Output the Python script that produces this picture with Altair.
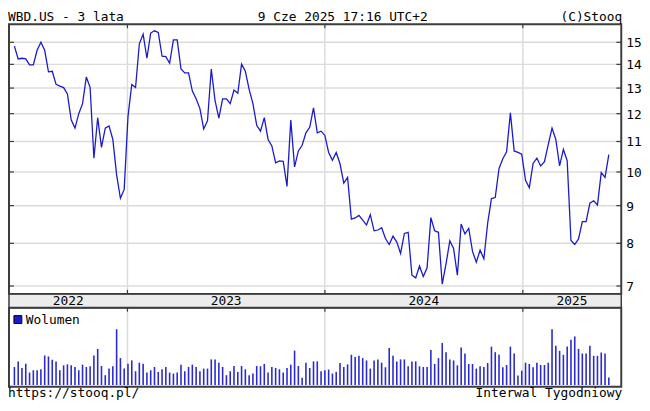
import altair as alt
import pandas as pd

FONT = "DejaVu Sans Mono"

# ---------------- data (weekly) ----------------
prices = [
    14.82, 14.24, 14.27, 14.24, 13.98, 13.98, 14.63, 15.00, 14.63, 13.68,
    13.70, 13.15, 13.08, 13.02, 12.76, 11.77, 11.47, 12.00, 12.38, 13.46,
    13.02, 10.44, 11.85, 10.80, 11.47, 11.55, 11.07, 9.91, 9.21, 9.47,
    11.89, 13.15, 13.02, 14.93, 15.39, 14.27, 15.44, 15.55, 15.47, 14.36,
    14.34, 14.05, 15.11, 15.11, 13.80, 13.63, 13.63, 12.88, 12.57, 12.19,
    11.44, 11.73, 13.80, 12.50, 11.83, 12.57, 12.57, 12.38, 12.92, 12.79,
    14.01, 13.70, 12.95, 12.38, 11.57, 11.36, 11.85, 11.07, 10.85, 10.29,
    10.35, 10.34, 9.56, 11.76, 10.16, 10.68, 10.87, 11.30, 11.50, 12.22,
    11.30, 11.36, 11.21, 10.63, 10.37, 10.63, 10.26, 9.66, 9.83, 8.63,
    8.66, 8.73, 8.60, 8.47, 8.75, 8.32, 8.34, 8.40, 8.12, 7.97,
    8.18, 8.03, 7.75, 8.25, 8.28, 7.24, 7.18, 7.45, 7.21, 7.41,
    8.67, 8.32, 8.28, 7.04, 7.50, 8.06, 7.87, 7.24, 8.50, 8.24,
    8.38, 7.80, 7.54, 7.83, 7.62, 8.52, 9.20, 9.23, 10.11, 10.42,
    10.65, 12.03, 10.68, 10.63, 10.57, 9.74, 9.52, 10.27, 10.44, 10.19,
    10.33, 10.89, 11.47, 11.07, 10.19, 10.73, 10.36, 8.07, 7.97, 8.11,
    8.56, 8.56, 9.07, 9.14, 9.02, 9.98, 9.83, 10.56,
]

volumes = [  # millions of shares per week
    55, 72, 52, 65, 38, 45, 45, 48, 90, 87,
    77, 72, 45, 60, 63, 60, 55, 45, 62, 55,
    57, 90, 110, 58, 30, 50, 57, 170, 82, 50,
    65, 75, 42, 68, 65, 38, 45, 55, 40, 48,
    55, 38, 35, 38, 62, 42, 55, 62, 55, 42,
    50, 50, 78, 78, 68, 55, 30, 42, 58, 40,
    58, 48, 30, 35, 58, 57, 64, 38, 55, 52,
    48, 38, 52, 62, 105, 58, 22, 68, 52, 72,
    72, 42, 45, 47, 35, 40, 67, 55, 63, 92,
    85, 89, 82, 75, 50, 75, 78, 68, 54, 113,
    89, 72, 78, 78, 57, 72, 72, 57, 55, 55,
    107, 64, 82, 128, 100, 78, 75, 60, 114, 96,
    64, 64, 50, 57, 55, 67, 117, 100, 92, 54,
    61, 117, 96, 29, 44, 68, 64, 54, 68, 61,
    61, 68, 170, 120, 104, 92, 117, 138, 148, 110,
    96, 96, 120, 89, 89, 99, 96, 23,
]

last_week = "2025-06-09"
price_ticks = [7, 8, 9, 10, 11, 12, 13, 14, 15]
years = ["2022", "2023", "2024", "2025"]
year_starts = ["2023-01-01", "2024-01-01", "2025-01-01"]
view_start = "2022-05-27"
view_end = "2025-07-02"
price_domain = [6.83, 15.87]
volume_max = 235.5

title_left = "WBD.US - 3 lata"
title_mid = "9 Cze 2025 17:16 UTC+2"
title_right = "(C)Stooq"
footer_left = "https://stooq.pl/"
footer_right = "Interwal Tygodniowy"
legend_label = "Wolumen"

# ---------------- layout ----------------
W, H = 642, 394
X0, X1 = 1, 621
PT, PB = 14, 287
VT, VB = 301, 381
VBASE = 379.3

LINE = "#1a1acc"
BAR = "#2a2ad0"
GRID = "#dcdcdc"
FRAME = "#3c3c3c"
BAND = "#ececec"

fmt = "%Y-%m-%dT%H:%M:%S"
dates = pd.date_range(end=last_week, periods=len(prices), freq="7D")
df = pd.DataFrame({"date": dates.strftime(fmt), "close": prices, "volume": volumes})

ys = pd.to_datetime(year_starts)
ys_df = pd.DataFrame({"d": ys.strftime(fmt)})
bounds = list(pd.to_datetime([view_start])) + list(ys) + list(pd.to_datetime([view_end]))
mids = [bounds[i] + (bounds[i + 1] - bounds[i]) / 2 for i in range(len(years))]
yl_df = pd.DataFrame({"d": [m.strftime(fmt) for m in mids], "y": years})
tick_df = pd.DataFrame({"v": price_ticks, "lab": [str(t) for t in price_ticks]})

vs, ve = pd.Timestamp(view_start), pd.Timestamp(view_end)
xscale = alt.Scale(
    domain=[alt.DateTime(year=vs.year, month=vs.month, date=vs.day),
            alt.DateTime(year=ve.year, month=ve.month, date=ve.day)],
    range=[X0, X1],
)
pscale = alt.Scale(type="log", domain=price_domain, range=[PB, PT], nice=False, zero=False)
vscale = alt.Scale(domain=[0, volume_max], range=[VBASE, VT], nice=False, zero=True)

one = alt.Data(values=[{"k": 0}])


def box(x1, x2, y1, y2, **kw):
    return alt.Chart(one).mark_rect(**kw).encode(
        x=alt.value(x1), x2=alt.value(x2), y=alt.value(y1), y2=alt.value(y2))


def label(txt, x, y, align="left", size=13):
    return alt.Chart(one).mark_text(
        text=txt, align=align, baseline="alphabetic", font=FONT, fontSize=size, color="#000"
    ).encode(x=alt.value(x), y=alt.value(y))


X = lambda f: alt.X(f, type="temporal", scale=xscale, axis=None)

band = box(X0, X1, PB, VT, fill=BAND, stroke=FRAME, strokeWidth=1.5)

hgrid = alt.Chart(tick_df).mark_rule(color=GRID, strokeWidth=1.5).encode(
    y=alt.Y("v:Q", scale=pscale, axis=None), x=alt.value(X0), x2=alt.value(X1))

vgrid_p = alt.Chart(ys_df).mark_rule(color=GRID, strokeWidth=1.5).encode(
    x=X("d"), y=alt.value(PT), y2=alt.value(PB))
vgrid_v = alt.Chart(ys_df).mark_rule(color=GRID, strokeWidth=1.5).encode(
    x=X("d"), y=alt.value(VT), y2=alt.value(VB))

line = alt.Chart(df).mark_line(color=LINE, strokeWidth=1.3).encode(
    x=X("date"), y=alt.Y("close:Q", scale=pscale, axis=None))

bars = alt.Chart(df).mark_rule(color=BAR, strokeWidth=1.6).encode(
    x=X("date"), y=alt.Y("volume:Q", scale=vscale, axis=None), y2=alt.datum(0))

frame_p = box(X0, X1, PT, PB, fillOpacity=0, stroke=FRAME, strokeWidth=2)
frame_v = box(X0, X1, VT, VB, fillOpacity=0, stroke=FRAME, strokeWidth=2)

lt = alt.Chart(tick_df).mark_rule(color=FRAME, strokeWidth=1.2).encode(
    y=alt.Y("v:Q", scale=pscale, axis=None), x=alt.value(X0), x2=alt.value(X0 + 5))
rt = alt.Chart(tick_df).mark_rule(color=FRAME, strokeWidth=1.2).encode(
    y=alt.Y("v:Q", scale=pscale, axis=None), x=alt.value(X1 - 5), x2=alt.value(X1))
plabels = alt.Chart(tick_df).mark_text(
    align="left", baseline="middle", font=FONT, fontSize=13, color="#000", dy=1
).encode(y=alt.Y("v:Q", scale=pscale, axis=None), x=alt.value(X1 + 5), text="lab:N")

yt1 = alt.Chart(ys_df).mark_rule(color=FRAME, strokeWidth=1.2).encode(
    x=X("d"), y=alt.value(PT), y2=alt.value(PT + 4))
yt2 = alt.Chart(ys_df).mark_rule(color=FRAME, strokeWidth=1.2).encode(
    x=X("d"), y=alt.value(PB - 4), y2=alt.value(PB))
yt3 = alt.Chart(ys_df).mark_rule(color=FRAME, strokeWidth=1.2).encode(
    x=X("d"), y=alt.value(VT), y2=alt.value(VT + 4))

ylabels = alt.Chart(yl_df).mark_text(
    baseline="alphabetic", font=FONT, fontSize=13, color="#000"
).encode(x=X("d"), y=alt.value(VT - 2.5), text="y:N")

legend_sq = box(6, 14, VT + 8, VT + 16, fill=LINE, stroke="#000", strokeWidth=1)

chart = alt.layer(
    band, hgrid, vgrid_p, vgrid_v, line, bars, frame_p, frame_v,
    lt, rt, plabels, yt1, yt2, yt3, ylabels, legend_sq,
    label(legend_label, 18, VT + 16.5),
    label(title_left, 0, 11),
    label(title_mid, 253, 11),
    label(title_right, 622, 11, align="right"),
    label(footer_left, 0, 391),
    label(footer_right, 622, 391, align="right"),
).resolve_scale(y="independent").properties(
    width=W, height=H, padding=0,
    autosize=alt.AutoSizeParams(type="none"),
).configure_view(stroke=None)

chart.save("out.html", embed_options={"renderer": "svg", "actions": False})
